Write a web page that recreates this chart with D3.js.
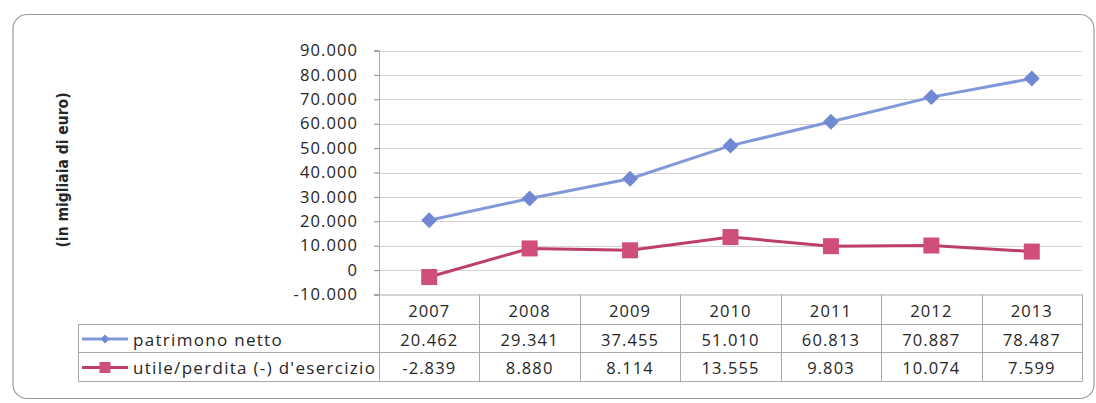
<!DOCTYPE html>
<html>
<head>
<meta charset="utf-8">
<script src="https://cdn.jsdelivr.net/npm/d3@7"></script>
<style>
  html, body { margin: 0; padding: 0; background: #fff; }
  text { font-family: "Open Sans", sans-serif; fill: #262626; }
  .grid line { stroke: #d2d2d2; stroke-width: 1; }
  .tbl line { stroke: #a9a9a9; stroke-width: 1; }
</style>
</head>
<body>
<div id="chart-area"></div>
<script>
// dati (in migliaia di euro)
const years = ["2007", "2008", "2009", "2010", "2011", "2012", "2013"];
const patrimonio = [20462, 29341, 37455, 51010, 60813, 70887, 78487];
const utile = [-2839, 8880, 8114, 13555, 9803, 10074, 7599];
const yTicks = [-10000, 0, 10000, 20000, 30000, 40000, 50000, 60000, 70000, 80000, 90000];
const seriesNames = ["patrimono netto", "utile/perdita (-) d'esercizio"];

const series = [
  { name: seriesNames[0], values: patrimonio, line: "#8299d9", fill: "#7189d2", shape: "diamond" },
  { name: seriesNames[1], values: utile, line: "#bd3f65", fill: "#cf4f78", shape: "square" }
];

// formato italiano: 20.462
const it = d3.formatLocale({ decimal: ",", thousands: ".", grouping: [3], currency: ["€", ""], minus: "-" });
const fmt = it.format(",d");

const W = 1096, H = 403;
const plot = { left: 379, right: 1082, top: 50.5, bottom: 294.5 };
const rows = { header: 324, r1: 352, r2: 381 };
const legendLeft = 78;

const svg = d3
  .select("#chart-area")
  .append("svg")
  .attr("width", W)
  .attr("height", H);

// cornice arrotondata
svg
  .append("rect")
  .attr("x", 13)
  .attr("y", 14.5)
  .attr("width", 1081)
  .attr("height", 384)
  .attr("rx", 14)
  .attr("fill", "none")
  .attr("stroke", "#9a9a9a")
  .attr("stroke-width", 1.2);

const xScale = d3
  .scaleBand()
  .domain(years)
  .range([plot.left, plot.right]);

const yScale = d3
  .scaleLinear()
  .domain([-10000, 90000])
  .range([plot.bottom, plot.top]);

// griglia orizzontale
svg
  .append("g")
  .attr("class", "grid")
  .selectAll("line")
  .data(yTicks.slice(1))
  .enter()
  .append("line")
  .attr("x1", plot.left)
  .attr("x2", plot.right)
  .attr("y1", d => Math.round(yScale(d)) + 0.5)
  .attr("y2", d => Math.round(yScale(d)) + 0.5);

// asse Y
const yAxis = svg
  .append("g")
  .attr("transform", "translate(" + plot.left + ",0)")
  .call(d3.axisLeft(yScale).tickValues(yTicks).tickFormat(fmt).tickSizeOuter(0).tickSize(5).tickPadding(16));
yAxis.select(".domain").attr("stroke", "#8c8c8c");
yAxis.selectAll(".tick line").attr("stroke", "#8c8c8c");
yAxis
  .selectAll(".tick text")
  .attr("fill", "#262626")
  .style("font-size", "16.5px")
  .style("letter-spacing", "1.1px")
  .style("font-family", "Open Sans, sans-serif");

// titolo asse Y
svg
  .append("text")
  .attr("transform", "translate(68,170) rotate(-90)")
  .attr("text-anchor", "middle")
  .style("font-family", "'Liberation Sans Narrow', 'DejaVu Sans Condensed', sans-serif")
  .style("font-weight", "bold")
  .style("font-size", "15.5px")
  .text("(in migliaia di euro)");

// tabella dati
const tbl = svg.append("g").attr("class", "tbl");
tbl.append("line").attr("x1", plot.left).attr("x2", plot.right).attr("y1", plot.bottom + 0.5).attr("y2", plot.bottom + 0.5);
[rows.header, rows.r1, rows.r2].forEach(y => {
  tbl.append("line").attr("x1", legendLeft).attr("x2", plot.right).attr("y1", y + 0.5).attr("y2", y + 0.5);
});
tbl.append("line").attr("x1", legendLeft + 0.5).attr("x2", legendLeft + 0.5).attr("y1", rows.header).attr("y2", rows.r2);
years.concat(["end"]).forEach((yr, i) => {
  let x = i < years.length ? xScale(yr) : plot.right;
  tbl
    .append("line")
    .attr("x1", Math.round(x) + 0.5)
    .attr("x2", Math.round(x) + 0.5)
    .attr("y1", i === 0 ? plot.top : plot.bottom)
    .attr("y2", rows.r2 + 0.5)
    .attr("stroke", i === 0 ? "#8c8c8c" : null);
});

const cellStyle = sel =>
  sel
    .attr("text-anchor", "middle")
    .attr("dominant-baseline", "central")
    .style("font-size", "16.5px")
    .style("letter-spacing", "1.1px");

svg
  .append("g")
  .selectAll("text")
  .data(years)
  .enter()
  .append("text")
  .attr("x", d => xScale(d) + xScale.bandwidth() / 2)
  .attr("y", (plot.bottom + rows.header) / 2 + 1)
  .call(cellStyle)
  .text(d => d);

const rowMid = [(rows.header + rows.r1) / 2 + 1, (rows.r1 + rows.r2) / 2 + 1];

series.forEach((s, si) => {
  svg
    .append("g")
    .selectAll("text")
    .data(s.values)
    .enter()
    .append("text")
    .attr("x", (d, i) => xScale(years[i]) + xScale.bandwidth() / 2)
    .attr("y", rowMid[si])
    .call(cellStyle)
    .text(d => fmt(d));
});

// simboli
function marker(g, shape, size) {
  if (shape === "diamond") {
    return g.append("path").attr("d", d3.symbol(d3.symbolDiamond2, size * size * 0.5)());
  }
  return g.append("rect").attr("x", -size / 2).attr("y", -size / 2).attr("width", size).attr("height", size);
}

// linee + punti
const line = d3
  .line()
  .x((d, i) => xScale(years[i]) + xScale.bandwidth() / 2)
  .y(d => yScale(d));

series.forEach(s => {
  svg
    .append("path")
    .datum(s.values)
    .attr("fill", "none")
    .attr("stroke", s.line)
    .attr("stroke-width", 3)
    .attr("d", line);

  s.values.forEach((v, i) => {
    let g = svg
      .append("g")
      .attr("transform", "translate(" + (xScale(years[i]) + xScale.bandwidth() / 2) + "," + yScale(v) + ")");
    marker(g, s.shape, s.shape === "diamond" ? 18 : 16).attr("fill", s.fill);
  });
});

// legenda nella tabella
series.forEach((s, si) => {
  let y = rowMid[si];
  svg
    .append("line")
    .attr("x1", 82)
    .attr("x2", 128)
    .attr("y1", y)
    .attr("y2", y)
    .attr("stroke", s.line)
    .attr("stroke-width", 3);
  let g = svg.append("g").attr("transform", "translate(105," + y + ")");
  marker(g, s.shape, s.shape === "diamond" ? 10 : 11).attr("fill", s.fill);
  svg
    .append("text")
    .attr("x", 133)
    .attr("y", y)
    .attr("dominant-baseline", "central")
    .style("font-size", "17px")
    .style("letter-spacing", "1.3px")
    .text(s.name);
});
</script>
</body>
</html>
